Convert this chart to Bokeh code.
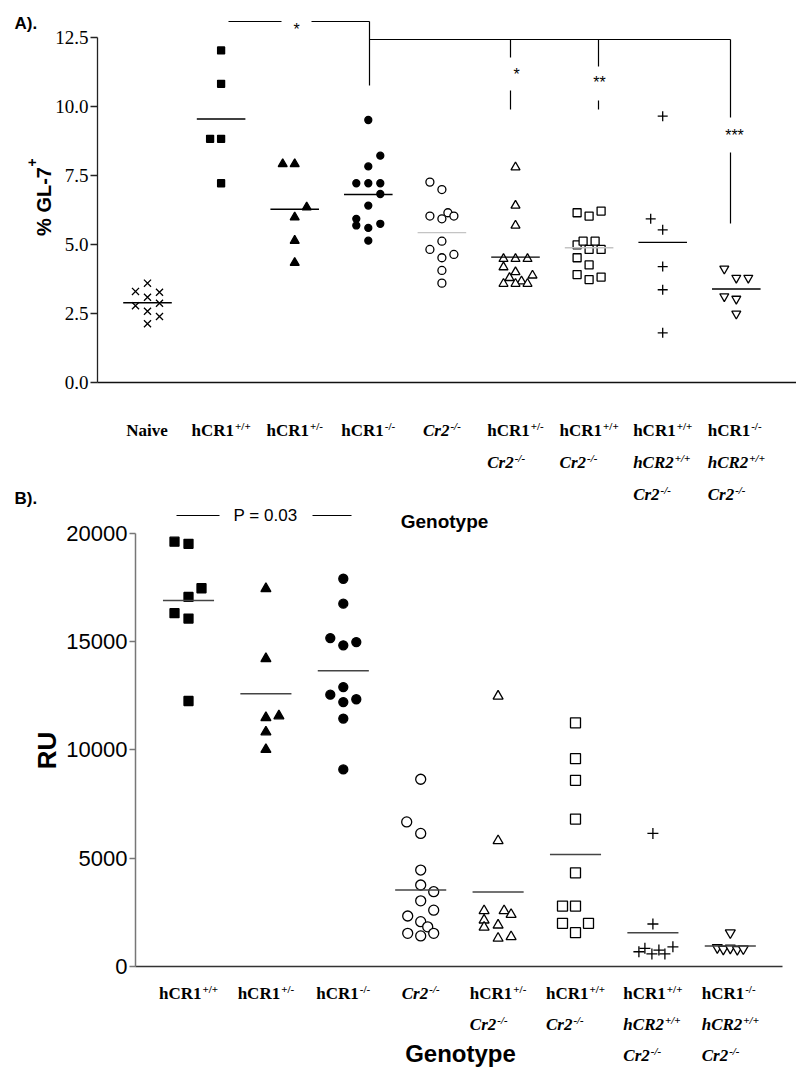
import numpy as np
from bokeh.plotting import figure
from bokeh.models import (Label, FixedTicker, Range1d, LinearAxis,
                          PrintfTickFormatter)
from bokeh.embed import file_html
from bokeh.resources import INLINE

# ---------------- Panel A data: % GL-7+ ----------------
genotypes_a = ["Naive", "hCR1+/+", "hCR1+/-", "hCR1-/-", "Cr2-/-",
               "hCR1+/- Cr2-/-", "hCR1+/+ Cr2-/-",
               "hCR1+/+ hCR2+/+ Cr2-/-", "hCR1-/- hCR2+/+ Cr2-/-"]
gl7_naive = [3.30, 3.60, 3.27, 3.09, 2.78, 2.87, 2.58, 2.39, 2.13]
gl7_hcr1_pp = [12.03, 10.82, 8.83, 8.83, 7.22]
gl7_hcr1_pm = [7.92, 7.92, 6.35, 5.99, 5.14, 4.34]
gl7_hcr1_mm = [9.51, 8.22, 7.83, 7.22, 7.22, 7.22, 6.83, 6.41, 5.93, 5.75, 5.69, 5.60, 5.14]
gl7_cr2 = [7.26, 6.99, 6.15, 6.03, 5.93, 6.03, 5.12, 4.82, 4.64, 4.52, 4.06, 3.60]
gl7_hcr1pm_cr2 = [7.80, 6.41, 5.69, 4.48, 4.48, 4.48, 4.18, 4.00, 3.88, 3.79, 3.67, 3.58, 3.58, 3.58]
gl7_hcr1pp_cr2 = [6.15, 6.03, 6.21, 4.99, 5.12, 5.12, 4.82, 4.82, 4.52, 4.26, 3.91, 3.73, 3.82]
gl7_hcr2_pp = [9.65, 5.93, 5.53, 4.20, 3.36, 1.80]
gl7_hcr2_mm = [4.12, 3.79, 3.79, 3.12, 3.03, 2.49]
gl7_values = [gl7_naive, gl7_hcr1_pp, gl7_hcr1_pm, gl7_hcr1_mm, gl7_cr2,
              gl7_hcr1pm_cr2, gl7_hcr1pp_cr2, gl7_hcr2_pp, gl7_hcr2_mm]
gl7_ticks = [0, 2.5, 5.0, 7.5, 10.0, 12.5]

# ---------------- Panel B data: RU ----------------
genotypes_b = genotypes_a[1:]
ru_hcr1_pp = [19600, 19500, 17450, 17050, 16300, 16050, 12250]
ru_hcr1_pm = [17430, 14200, 11480, 11560, 10820, 10010]
ru_hcr1_mm = [17890, 16740, 15150, 14820, 14970, 12890, 12540, 12200, 12330, 11440, 9090]
ru_cr2 = [8640, 6670, 6140, 4450, 3760, 3450, 3030, 2600, 2330, 2070, 1830, 1530, 1410, 1530]
ru_hcr1pm_cr2 = [12470, 5800, 2570, 2570, 2400, 2140, 1910, 1810, 1300, 1370]
ru_hcr1pp_cr2 = [11240, 9590, 8590, 6800, 4320, 2790, 2790, 1990, 1990, 1560]
ru_hcr2_pp = [6140, 1960, 680, 840, 580, 760, 580, 910]
ru_hcr2_mm = [1560, 870, 800, 850, 790, 820]
ru_values = [ru_hcr1_pp, ru_hcr1_pm, ru_hcr1_mm, ru_cr2, ru_hcr1pm_cr2,
             ru_hcr1pp_cr2, ru_hcr2_pp, ru_hcr2_mm]
ru_ticks = [0, 5000, 10000, 15000, 20000]

# genotype tick-label text: (base, style, superscript) per line
geno_lines = {
    "Naive": [("Naive", "bold", "")],
    "hCR1+/+": [("hCR1", "bold", "+/+")],
    "hCR1+/-": [("hCR1", "bold", "+/-")],
    "hCR1-/-": [("hCR1", "bold", "-/-")],
    "Cr2-/-": [("Cr2", "bold italic", "-/-")],
    "hCR1+/- Cr2-/-": [("hCR1", "bold", "+/-"), ("Cr2", "bold italic", "-/-")],
    "hCR1+/+ Cr2-/-": [("hCR1", "bold", "+/+"), ("Cr2", "bold italic", "-/-")],
    "hCR1+/+ hCR2+/+ Cr2-/-": [("hCR1", "bold", "+/+"), ("hCR2", "bold italic", "+/+"), ("Cr2", "bold italic", "-/-")],
    "hCR1-/- hCR2+/+ Cr2-/-": [("hCR1", "bold", "-/-"), ("hCR2", "bold italic", "+/+"), ("Cr2", "bold italic", "-/-")],
}

# ---------------- styling / layout (not data) ----------------
jit_a = [[-12, 0, 12, 0, -12, 12, 0, 12, 0],
         [0, 0, -11, 0, 0],
         [-12, 0, 12, 0, 0, 0],
         [0, 12, 0, -12, 0, 12, 12, 0, -12, 12, -12, 0, 0],
         [-12, 0, 6, -12, 0, 12, 0, -12, 12, 0, 0, 0],
         [0, 0, 0, -12, 0, 12, -12, 0, 17, -6, 6, -12, 0, 12],
         [-12, 0, 12, -12, -6, 6, 0, 12, -12, 0, -12, 0, 12],
         [0, -12, 0, 0, 0, 0],
         [-12, 0, 12, -12, 0, 0]]
jit_b = [[-14, 0, 13, 0, -14, 0, 0],
         [0, 0, 0, 13, 0, 0],
         [0, 0, -13, 0, 13, 0, -13, 0, 13, 0, 0],
         [0, -14, 0, 0, 0, 13, 0, 13, -13, 0, 7, -13, 0, 13],
         [0, 0, -14, 6, 13, -14, 0, -14, 0, 13],
         [0, 0, 0, 0, 0, -13, 0, -13, 13, 0],
         [0, 0, -14, -8, -1, 6, 12, 20],
         [0, -13, -7, 0, 7, 13]]
mk_a = [("x", False, 10), ("square", True, 7), ("triangle", True, 9), ("circle", True, 7),
        ("circle", False, 8), ("triangle", False, 9), ("square", False, 8),
        ("cross", False, 10), ("inverted_triangle", False, 9)]
mk_b = [("square", True, 9), ("triangle", True, 10), ("circle", True, 9),
        ("circle", False, 10), ("triangle", False, 10), ("square", False, 10),
        ("cross", False, 11), ("inverted_triangle", False, 10)]
mean_col_a = ["black", "black", "black", "black", "#c4c4c4", "black", "#c4c4c4", "black", "black"]
mean_col_b = ["#444444"] * 8

W, H = 796, 1076
# canvas-pixel anchors of the two panels' scales
A_X0, A_DX, A_Y0, A_DY = 147.0, 73.6, 382.0, 27.6
B_X0, B_DX, B_Y0, B_DY = 188.0, 77.4, 966.0, 433.5 / 20000.0


def ax(px): return (px - A_X0) / A_DX
def ay(py): return (A_Y0 - py) / A_DY
def bx(px): return (px - B_X0) / B_DX
def by(py): return (B_Y0 - py) / B_DY


TB = {"h": 556, "C": 722, "R": 722, "N": 722, "a": 500, "i": 278, "v": 500, "e": 444,
      "r": 444, "1": 500, "2": 500, "+": 570, "/": 278, "-": 333}
TBI = dict(TB, C=667, R=667, r=389)


def tw(s, style, size):
    t = TBI if "italic" in style else TB
    return sum(t.get(c, 500) for c in s) * size / 1000.0


SERIF = "Liberation Serif"
SANS = "Liberation Sans"

p = figure(width=W, height=H, x_range=Range1d(ax(0), ax(W)), y_range=Range1d(ay(H), ay(0)),
           x_axis_type=None, y_axis_type=None, output_backend="svg",
           toolbar_location=None, title=None, min_border_left=0, min_border_right=0,
           min_border_top=0, min_border_bottom=0)
p.extra_x_ranges = {"B": Range1d(bx(0), bx(W))}
p.extra_y_ranges = {"B": Range1d(by(H), by(0))}
p.outline_line_color = None
p.background_fill_color = "white"
p.border_fill_color = "white"


def lab(panel, x, y, text, font=SANS, size="16px", style="normal", align="center",
        baseline="middle", angle=0.0, xo=0, yo=0, color="black"):
    rn = "B" if panel == "B" else "default"
    p.add_layout(Label(x=x, y=y, text=text, text_font=font, text_font_size=size,
                       text_font_style=style, text_align=align, text_baseline=baseline,
                       angle=angle, x_offset=xo, y_offset=yo, text_color=color,
                       x_range_name=rn, y_range_name=rn))


def geno_labels(panel, names, rows_y, size=17, sup=11):
    for i, name in enumerate(names):
        lines = geno_lines[name]
        widths = [tw(b, s, size) + tw(u, s, sup) + 1 for b, s, u in lines]
        left = -max(widths) / 2.0
        for k, (b, s, u) in enumerate(lines):
            lab(panel, i, rows_y[k], b, font=SERIF, size=f"{size}px", style=s,
                align="left", xo=left)
            if u:
                lab(panel, i, rows_y[k], u, font=SERIF, size=f"{sup}px", style=s,
                    align="left", xo=left + tw(b, s, size) + 1, yo=5)


def dots(panel, values, jit, marks, dx, half, mean_cols):
    rn = "B" if panel == "B" else "default"
    for i, vals in enumerate(values):
        xs = i + np.array(jit[i], dtype=float) / dx
        kind, filled, size = marks[i]
        p.scatter(xs, vals, marker=kind, size=size, line_color="black",
                  fill_color="black" if filled else "white", line_width=1.3,
                  x_range_name=rn, y_range_name=rn)
        m = float(np.mean(vals))
        p.segment(x0=[i - half], x1=[i + half], y0=[m], y1=[m],
                  line_color=mean_cols[i], line_width=1.4,
                  x_range_name=rn, y_range_name=rn)


def yaxis(panel, loc, bounds, ticks, fmt, font, size, color, lw, tick_out):
    rn = "B" if panel == "B" else "default"
    a = LinearAxis(fixed_location=loc, bounds=bounds, ticker=FixedTicker(ticks=ticks),
                   formatter=PrintfTickFormatter(format=fmt), x_range_name=rn, y_range_name=rn)
    a.major_label_text_font = font
    a.major_label_text_font_size = size
    a.major_label_text_color = "black"
    a.major_tick_out = tick_out
    a.major_tick_in = 0
    a.minor_tick_line_color = None
    a.major_label_standoff = 2
    a.axis_line_color = color
    a.major_tick_line_color = color
    a.axis_line_width = lw
    a.major_tick_line_width = lw
    p.add_layout(a, "left")


def xaxis(panel, bounds, color, lw):
    rn = "B" if panel == "B" else "default"
    a = LinearAxis(fixed_location=0, bounds=bounds, ticker=FixedTicker(ticks=[]),
                   x_range_name=rn, y_range_name=rn)
    a.major_label_text_font_size = "0px"
    a.major_tick_line_color = None
    a.minor_tick_line_color = None
    a.axis_line_color = color
    a.axis_line_width = lw
    p.add_layout(a, "below")


# ================= Panel A =================
yaxis("A", ax(97), (0, 12.5), gl7_ticks, "%.1f", SERIF, "19px", "#222222", 1.3, 7)
xaxis("A", (ax(97), ax(W)), "#111111", 1.3)
dots("A", gl7_values, jit_a, mk_a, A_DX, 0.33, mean_col_a)

# significance brackets
p.segment(x0=[ax(228), ax(311), ax(369), ax(369), ax(510), ax(510), ax(598), ax(598), ax(730), ax(730)],
          y0=[ay(21), ay(21), ay(21), ay(39), ay(39), ay(90), ay(39), ay(100), ay(39), ay(152)],
          x1=[ax(281), ax(369), ax(369), ax(730), ax(510), ax(510), ax(598), ax(598), ax(730), ax(730)],
          y1=[ay(21), ay(21), ay(85), ay(39), ay(57), ay(109), ay(66), ay(109), ay(117), ay(223)],
          line_color="black", line_width=1.2)
lab("A", ax(296), ay(29), "*", size="16px")
lab("A", ax(516), ay(74), "*", size="16px")
lab("A", ax(599), ay(82), "**", size="16px")
lab("A", ax(734), ay(135), "***", size="16px")

geno_labels("A", genotypes_a, [ay(430), ay(462), ay(494)])
lab("A", ax(444), ay(521), "Genotype", size="19px", style="bold")
lab("A", ax(43), ay(201), "% GL-7", size="20px", style="bold", angle=np.pi / 2)
lab("A", ax(31), ay(166), "+", size="14px", style="bold", angle=np.pi / 2, align="left")
lab("A", ax(14), ay(23), "A).", size="17px", style="bold", align="left")

# ================= Panel B =================
yaxis("B", bx(135), (0, 20000), ru_ticks, "%d", SANS, "22px", "#777777", 1.5, 6)
xaxis("B", (bx(135), bx(782)), "#333333", 1.5)
dots("B", ru_values, jit_b, mk_b, B_DX, 0.33, mean_col_b)

p.segment(x0=[bx(176), bx(312)], x1=[bx(219), bx(351)], y0=[by(515)] * 2, y1=[by(515)] * 2,
          line_color="black", line_width=1.2, x_range_name="B", y_range_name="B")
lab("B", bx(265), by(515), "P = 0.03", size="17px")
lab("B", bx(14), by(498), "B).", size="17px", style="bold", align="left")

geno_labels("B", genotypes_b, [by(993), by(1024), by(1055)])
lab("B", bx(460), by(1053), "Genotype", size="24px", style="bold")
lab("B", bx(46), by(750), "RU", size="26px", style="bold", angle=np.pi / 2)

open("out.html", "w").write(file_html(p, INLINE))
